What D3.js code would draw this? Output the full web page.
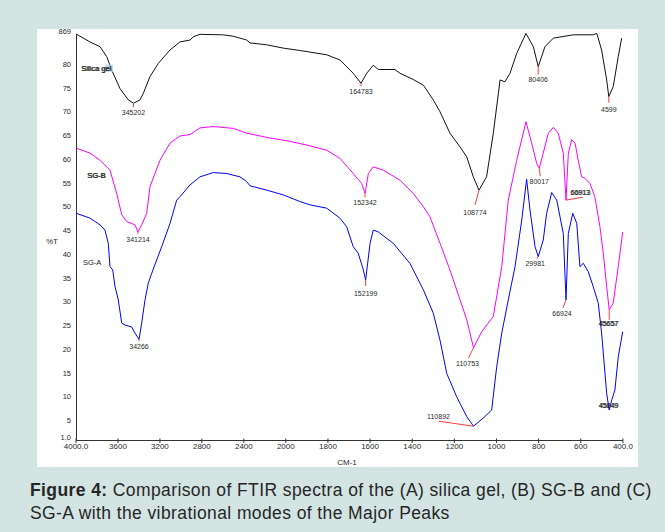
<!DOCTYPE html>
<html><head><meta charset="utf-8">
<script src="https://cdn.jsdelivr.net/npm/d3@7/dist/d3.min.js"></script>
<style>html,body{margin:0;padding:0;background:#d3e4e3;}svg{display:block;}</style>
</head><body>
<svg id="chart" width="665" height="532"></svg>
<script>
// ---------- DATA ----------
const xTickValues = [4000,3600,3200,2800,2400,2000,1800,1600,1400,1200,1000,800,600,400];
const xTickLabels = ["4000.0","3600","3200","2800","2400","2000","1800","1600","1400","1200","1000","800","600","400.0"];
const yTickValues = [1,5,10,15,20,25,30,35,40,45,50,55,60,65,70,75,80,86.9];
const yTickLabels = ["1.0","5","10","15","20","25","30","35","40","45","50","55","60","65","70","75","80","869"];

const seriesNames = ["Silica gel","SG-B","SG-A"];

// [wavenumber cm-1, %T]
const silicaGel = [
 [3993,86.3],[3867,84.7],[3771,83.7],[3707,81.6],[3660,78.8],[3581,74.9],[3501,72.5],[3452,71.8],
 [3390,72.5],[3358,73.9],[3295,77.4],[3215,80.2],[3104,83.0],[3009,84.7],[2913,85.1],[2882,85.8],
 [2818,86.3],[2596,86.2],[2500,85.9],[2373,85.1],[2341,84.5],[2182,84.1],[2024,83.4],[1933,82.9],
 [1806,82.0],[1743,80.9],[1680,78.1],[1643,76.0],[1616,78.1],[1585,79.8],[1561,78.9],[1482,78.9],
 [1458,78.1],[1395,76.8],[1347,75.6],[1300,72.5],[1268,70.0],[1221,65.5],[1173,62.6],[1141,60.5],
 [1110,56.3],[1083,53.5],[1047,56.3],[1015,65.5],[991,73.9],[983,76.7],[960,76.3],[936,78.1],
 [904,82.3],[860,86.5],[825,83.7],[802,79.5],[770,83.7],[730,85.5],[636,86.2],[541,86.2],
 [524,86.5],[501,83.0],[477,76.7],[467,73.2],[446,75.3],[422,81.6],[406,85.5]
];
const sgB = [
 [3993,62.3],[3867,61.3],[3771,59.8],[3676,57.7],[3612,52.8],[3564,48.3],[3517,46.9],[3438,46.2],
 [3409,44.7],[3374,46.2],[3326,48.6],[3295,54.2],[3199,59.8],[3104,63.4],[3009,64.9],[2913,65.2],
 [2818,66.6],[2691,66.9],[2500,66.5],[2373,65.5],[2182,64.6],[1996,63.9],[1901,63.0],[1806,61.9],
 [1743,60.2],[1680,57.0],[1640,54.9],[1624,52.8],[1608,57.0],[1585,58.4],[1537,57.7],[1458,55.6],
 [1395,52.8],[1347,50.0],[1316,47.9],[1268,42.3],[1221,36.7],[1173,30.4],[1141,26.2],[1109,20.3],
 [1070,23.7],[1015,26.9],[975,37.4],[944,51.4],[904,59.8],[860,67.9],[833,63.4],[809,59.1],
 [797,58.1],[778,61.3],[754,65.5],[730,66.7],[707,65.5],[683,61.3],[670,51.4],[659,61.3],
 [643,64.1],[627,63.4],[612,59.8],[596,56.3],[580,56.0],[556,54.9],[533,52.1],[509,45.8],
 [493,40.2],[477,33.2],[465,28.3],[446,29.7],[422,37.4],[401,44.7]
];
const sgA = [
 [3993,48.6],[3867,47.6],[3771,46.2],[3724,45.1],[3692,42.3],[3676,37.4],[3650,36.7],[3628,33.2],
 [3597,30.4],[3564,25.5],[3533,25.1],[3469,24.7],[3438,23.4],[3399,22.1],[3374,25.5],[3342,30.4],
 [3311,33.9],[3278,36.0],[3231,38.8],[3183,41.6],[3104,46.5],[3040,51.4],[3009,52.1],[2913,54.6],
 [2818,56.3],[2691,57.2],[2563,57.0],[2437,56.3],[2373,55.3],[2341,54.4],[2182,53.5],[2024,52.5],
 [1933,51.1],[1885,50.4],[1806,49.7],[1743,47.6],[1711,45.8],[1680,41.6],[1656,40.2],[1632,36.7],
 [1621,34.6],[1600,42.3],[1585,45.1],[1561,44.7],[1490,42.3],[1411,38.1],[1347,32.5],[1300,27.6],
 [1268,21.9],[1236,14.9],[1189,10.0],[1141,5.8],[1109,3.8],[1063,5.5],[1023,7.2],[999,16.3],
 [975,23.4],[944,30.4],[912,37.4],[880,47.2],[857,55.8],[841,49.3],[817,41.6],[802,39.5],
 [778,43.0],[762,48.6],[738,53.0],[714,51.4],[683,44.4],[670,30.4],[659,44.4],[638,48.6],
 [619,46.5],[604,37.4],[588,38.1],[564,36.3],[541,33.2],[517,29.7],[501,23.4],[485,14.9],
 [477,10.7],[465,7.2],[453,9.3],[438,11.4],[422,18.4],[401,23.7]
];

// peak annotations: series index, dip wavenumber, dip %T, label text
const peakSeries = [0,0,0,0,0, 1,1,1,1,1,1, 2,2,2,2,2,2];
const peakWn     = [3452,1643,1083,802,467, 3409,1624,1109,797,670,465, 3399,1621,1109,802,670,465];
const peakT      = [71.8,76.0,53.5,79.5,73.2, 44.7,52.8,20.3,58.1,51.4,28.3, 22.1,34.6,3.8,39.5,30.4,7.2];
const peakLabels = ["345202","164783","108774","80406","4599",
                    "341214","152342","110753","80017","66913","45657",
                    "34266","152199","110892","29981","66924","45649"];

const captionBold = "Figure 4:";
const captionLine1 = " Comparison of FTIR spectra of the (A) silica gel, (B) SG-B and (C)";
const captionLine2 = "SG-A with the vibrational modes of the Major Peaks";

// ---------- LAYOUT (not data) ----------
// leader-line end offset [dx,dy] and label offset [dx,dy] in px, plus doubled-text flag
const peakLayout = [
 [[0,4],[0,9],0],[[0,3],[0,8],0],[[-4,15],[-4,22],0],[[0,8],[0,13],0],[[0,6],[0,13],0],
 [[0,2],[0,8],0],[[0,4],[0,9],0],[[-5,10],[-6,16],0],[[1,8],[0,13],0],[[17,-3],[14,-8],1],[[0,10],[-1,14],1],
 [[0,2],[0,7],0],[[0,6],[0,14],0],[[-35,-5],[-35,-10],0],[[-1,2],[-3,7],0],[[-3,8],[-4,14],0],[[0,0],[-1,-5],1]
];
const colors = ["#111111","#ff00ff","#0000ff"];

const svg = d3.select("#chart");
svg.append("rect").attr("x",0).attr("y",0).attr("width",665).attr("height",532).attr("fill","#d3e4e3");
svg.append("rect").attr("x",37).attr("y",29).attr("width",601).attr("height",438).attr("fill","#ffffff");

const x = d3.scaleLinear().domain([4000,2000,400]).range([76,285.8,622.9]);
const y = d3.scaleLinear().domain([1,86.9]).range([439.5,31.5]);

const font = "'Liberation Sans', Arial, sans-serif";

// axes
const axisColor = "#333";
svg.append("line").attr("x1",x(4000)+0.5).attr("x2",x(4000)+0.5).attr("y1",y(86.4)).attr("y2",440)
  .attr("stroke",axisColor).attr("stroke-width",1);
svg.append("line").attr("x1",x(4000)).attr("x2",x(400)).attr("y1",440.5).attr("y2",440.5)
  .attr("stroke",axisColor).attr("stroke-width",1);

const xAxis = svg.append("g");
xTickValues.forEach((v,i)=>{
  xAxis.append("line").attr("x1",x(v)).attr("x2",x(v)).attr("y1",438.5).attr("y2",443)
    .attr("stroke",axisColor).attr("stroke-width",1);
  xAxis.append("text").attr("x",x(v)).attr("y",449).attr("text-anchor","middle")
    .attr("font-family",font).attr("font-size",8).attr("fill","#2a2a2a").text(xTickLabels[i]);
});
const yAxis = svg.append("g");
yTickValues.forEach((v,i)=>{
  const yy = i===0 ? y(v)-2.5 : y(v);
  yAxis.append("text").attr("x",71).attr("y",yy).attr("dy","0.35em").attr("text-anchor","end")
    .attr("font-family",font).attr("font-size",7.5).attr("fill","#2a2a2a").text(yTickLabels[i]);
});
svg.append("text").attr("x",52).attr("y",241.5).attr("dy","0.35em").attr("text-anchor","middle")
  .attr("font-family",font).attr("font-size",8).attr("fill","#2a2a2a").text("%T");
svg.append("text").attr("x",347).attr("y",464.5).attr("text-anchor","middle")
  .attr("font-family",font).attr("font-size",8).attr("fill","#2a2a2a").text("CM-1");

// curves
const line = d3.line().x(d=>x(d[0])).y(d=>y(d[1]));
[silicaGel,sgB,sgA].forEach((s,i)=>{
  svg.append("path").datum(s).attr("d",line).attr("fill","none")
    .attr("stroke",colors[i]).attr("stroke-width",1).attr("stroke-linejoin","round");
});

// series labels
svg.append("rect").attr("x",105).attr("y",64.5).attr("width",8).attr("height",7.5).attr("fill","#b9d3ec").attr("opacity",0.8);
const seriesLabelPos = [[81,68.5],[87,175.5],[83,262.5]];
seriesNames.forEach((n,i)=>{
  const reps = i<2 ? [0,0.7] : [0];
  reps.forEach(o=>{
    svg.append("text").attr("x",seriesLabelPos[i][0]+o).attr("y",seriesLabelPos[i][1]).attr("dy","0.35em")
      .attr("font-family",font).attr("font-size",7.5).attr("fill","#222").text(n);
  });
});

// peaks
peakWn.forEach((wn,i)=>{
  const px = x(wn), py = y(peakT[i]);
  const L = peakLayout[i];
  if (L[0][0]!==0 || L[0][1]!==0)
    svg.append("line").attr("x1",px).attr("y1",py).attr("x2",px+L[0][0]).attr("y2",py+L[0][1])
      .attr("stroke","#ff3b3b").attr("stroke-width",1);
  const reps = L[2] ? [0,0.8] : [0];
  reps.forEach(o=>{
    svg.append("text").attr("x",px+L[1][0]+o).attr("y",py+L[1][1]).attr("dy","0.35em")
      .attr("text-anchor","middle").attr("font-family",font).attr("font-size",7)
      .attr("fill","#2a2a2a").text(peakLabels[i]);
  });
});

// caption
const cap = svg.append("text").attr("x",30).attr("y",495.5).attr("font-family",font)
  .attr("font-size",17.5).attr("letter-spacing",0.4).attr("fill","#262626");
cap.append("tspan").attr("font-weight","bold").text(captionBold);
cap.append("tspan").text(captionLine1);
svg.append("text").attr("x",30).attr("y",518.7).attr("font-family",font)
  .attr("font-size",17.5).attr("letter-spacing",0.4).attr("fill","#262626").text(captionLine2);
</script>
</body></html>
